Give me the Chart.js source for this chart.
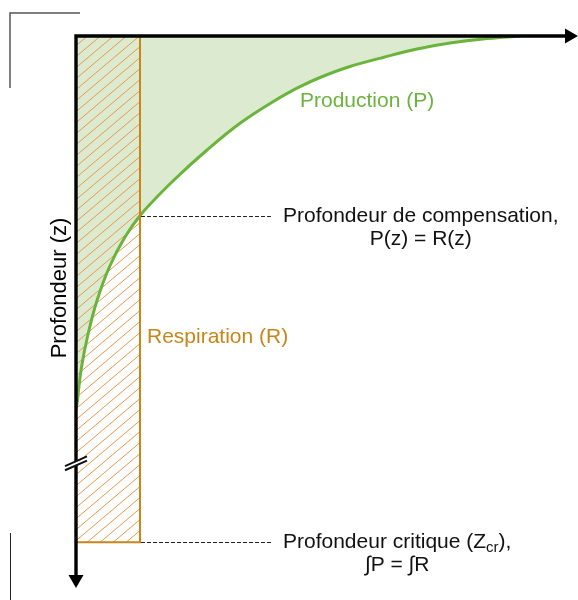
<!DOCTYPE html>
<html>
<head>
<meta charset="utf-8">
<script src="https://cdn.jsdelivr.net/npm/chart.js@4.4.1/dist/chart.umd.min.js"></script>
<style>
  body { margin: 0; background: #fff; }
  #wrap { width: 578px; height: 600px; }
</style>
</head>
<body>
<div id="wrap"><canvas id="schema" width="578" height="600"></canvas></div>
<script>
// courbe de production P(z)
var production = [88.45, 81.08, 74.50, 67.93, 61.16, 54.58, 48.61, 44.62, 39.24, 32.67, 26.10, 19.52, 12.85, 9.76, 6.65, 4.22, 2.45, 1.10, 0.50, 0.30, 0];
var profondeur = [0, 0.54, 1.27, 2.36, 3.89, 5.53, 7.52, 9.18, 11.90, 15.81, 20.65, 26.09, 32.43, 36.41, 41.85, 47.83, 53.80, 59.96, 64.13, 65.94, 67.75];

// respiration constante R jusqu'a la profondeur critique
var respiration = 12.75;
var profCompensation = 32.6;
var profCritique = 91.7;
var profCoupure = 77.4;
var xMax = 100;
var zMax = 100;

var FONT = "'Liberation Sans', Arial, Helvetica, sans-serif";

function hachures(color){
    var c = document.createElement('canvas');
    c.width = 13;
    c.height = 11;
    var g = c.getContext('2d');
    g.strokeStyle = color;
    g.lineWidth = 1;
    g.beginPath();
    for (var k = -1; k <= 1; k++) {
        g.moveTo(13 * k - 2, 11 + 1.7);
        g.lineTo(13 * k + 15, -1.7);
    }
    g.stroke();
    return g.createPattern(c, 'repeat');
}

function pointilles(c, xa, xb, y){
    c.save();
    c.strokeStyle = '#222';
    c.lineWidth = 1;
    c.setLineDash([4, 2]);
    c.beginPath();
    c.moveTo(xa, y + 0.5);
    c.lineTo(xb, y + 0.5);
    c.stroke();
    c.restore();
}

var annotations = {
    id: 'annotations',
    afterDraw: function(chart){
        var c = chart.ctx;
        var xs = chart.scales.x, ys = chart.scales.y;
        var x0 = xs.getPixelForValue(0), y0 = ys.getPixelForValue(0);
        var xEnd = xs.getPixelForValue(xMax), yEnd = ys.getPixelForValue(zMax);
        var xR = xs.getPixelForValue(respiration);

        c.save();

        // traits de coupe (coin)
        c.strokeStyle = '#555';
        c.lineWidth = 1.5;
        c.beginPath();
        c.moveTo(10, 88); c.lineTo(10, 13); c.lineTo(80, 13);
        c.stroke();
        c.strokeStyle = '#222';
        c.lineWidth = 1;
        c.beginPath();
        c.moveTo(10.5, 533); c.lineTo(10.5, 600);
        c.stroke();

        // pointilles vers les etiquettes
        pointilles(c, xR + 1, 272, Math.round(ys.getPixelForValue(profCompensation)));
        pointilles(c, xR + 1, 272, Math.round(ys.getPixelForValue(profCritique)));

        // axes
        c.strokeStyle = '#000';
        c.fillStyle = '#000';
        c.lineWidth = 3.4;
        c.beginPath();
        c.moveTo(x0 - 1.7, y0);
        c.lineTo(xEnd - 12, y0);
        c.moveTo(x0, y0);
        c.lineTo(x0, yEnd - 12);
        c.stroke();
        c.beginPath();
        c.moveTo(xEnd, y0);
        c.lineTo(xEnd - 13, y0 - 7.5);
        c.lineTo(xEnd - 13, y0 + 7.5);
        c.closePath();
        c.fill();
        c.beginPath();
        c.moveTo(x0, yEnd);
        c.lineTo(x0 - 7.5, yEnd - 13);
        c.lineTo(x0 + 7.5, yEnd - 13);
        c.closePath();
        c.fill();

        // coupure de l'axe
        var yb = ys.getPixelForValue(profCoupure);
        c.fillStyle = '#fff';
        c.beginPath();
        c.moveTo(x0 - 3, yb + 4);
        c.lineTo(x0 + 3, yb + 1.3);
        c.lineTo(x0 + 3, yb - 2.7);
        c.lineTo(x0 - 3, yb);
        c.closePath();
        c.fill();
        c.strokeStyle = '#111';
        c.lineWidth = 2;
        c.beginPath();
        c.moveTo(x0 - 11, yb + 7); c.lineTo(x0 + 11, yb - 2.6);
        c.moveTo(x0 - 11, yb + 2.8); c.lineTo(x0 + 11, yb - 6.8);
        c.stroke();

        // textes
        c.textBaseline = 'alphabetic';
        c.font = '21px ' + FONT;
        c.fillStyle = '#6ab43c';
        c.textAlign = 'left';
        c.fillText('Production (P)', 300, 107);
        c.fillStyle = '#c8861a';
        c.fillText('Respiration (R)', 147, 343);

        c.fillStyle = '#111';
        var l1 = 'Profondeur de compensation,';
        var w1 = c.measureText(l1).width;
        c.fillText(l1, 283, 222);
        c.textAlign = 'center';
        c.fillText('P(z) = R(z)', 283 + w1 / 2, 245);

        c.textAlign = 'left';
        var xt = 283;
        var a = 'Profondeur critique (Z';
        c.fillText(a, xt, 548);
        xt += c.measureText(a).width;
        c.font = '15px ' + FONT;
        c.fillText('cr', xt, 552);
        xt += c.measureText('cr').width;
        c.font = '21px ' + FONT;
        c.fillText('),', xt, 548);
        xt += c.measureText('),').width;
        c.textAlign = 'center';
        c.fillText('\u222BP = \u222BR', (283 + xt) / 2, 571);

        c.translate(60, 288);
        c.rotate(-Math.PI / 2);
        c.font = '22px ' + FONT;
        c.textBaseline = 'middle';
        c.fillStyle = '#000';
        c.fillText('Profondeur (z)', 0, 0);

        c.restore();
    }
};

var courbeP = production.map(function(p, i){
    return { x: p, y: profondeur[i] };
});
var rectR = [
    { x: respiration, y: 0 },
    { x: respiration, y: profCritique },
    { x: 0, y: profCritique }
];

new Chart(document.getElementById('schema').getContext('2d'), {
    type: 'line',
    data: {
        datasets: [{
            label: 'Respiration (R)',
            data: rectR,
            borderColor: '#c8861a',
            borderWidth: 2,
            backgroundColor: hachures('#e9974c'),
            fill: { value: 0 },
            pointRadius: 0,
            tension: 0
        }, {
            label: 'Production (P)',
            data: courbeP,
            borderColor: '#6ab43c',
            borderWidth: 3,
            backgroundColor: '#dcebd0',
            fill: { value: 0 },
            pointRadius: 0,
            cubicInterpolationMode: 'monotone'
        }]
    },
    options: {
        responsive: false,
        animation: false,
        indexAxis: 'y',
        layout: { padding: { left: 76, top: 36, right: 0, bottom: 12 } },
        scales: {
            x: { type: 'linear', min: 0, max: xMax, display: false },
            y: { type: 'linear', min: 0, max: zMax, reverse: true, display: false }
        },
        plugins: {
            legend: { display: false },
            tooltip: { enabled: false },
            filler: { drawTime: 'beforeDatasetsDraw', propagate: false }
        }
    },
    plugins: [annotations]
});
</script>
</body>
</html>
